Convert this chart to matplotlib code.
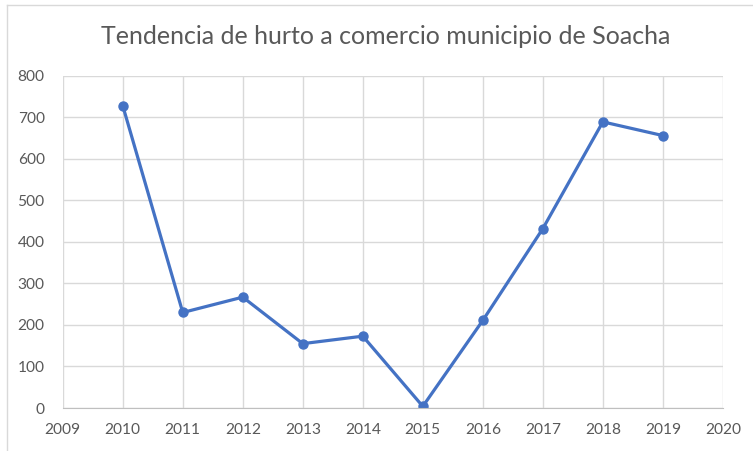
import matplotlib.pyplot as plt
from matplotlib.lines import Line2D

years = [2010, 2011, 2012, 2013, 2014, 2015, 2016, 2017, 2018, 2019]
hurtos = [728, 230, 267, 155, 173, 4, 211, 432, 689, 656]
x_ticks = list(range(2009, 2021))
y_ticks = list(range(0, 801, 100))

plt.rcParams['font.family'] = ['Lato', 'DejaVu Sans']

fig = plt.figure(figsize=(7.53, 4.51), dpi=100)
ax = fig.add_axes([0.0833, 0.0953, 0.8767, 0.7367])

ax.plot(years, hurtos, color='#4472C4', linewidth=2.3, marker='o', markersize=6.5)

ax.set_xlim(2009, 2020)
ax.set_ylim(0, 800)
ax.set_xticks(x_ticks)
ax.set_yticks(y_ticks)
ax.grid(True, color='#D9D9D9', linewidth=1)
ax.set_axisbelow(True)
for s in ['top', 'right', 'left']:
    ax.spines[s].set_visible(False)
ax.spines['bottom'].set_color('#BFBFBF')
ax.tick_params(length=0, labelsize=11.2, colors='#595959')
ax.tick_params(axis='y', pad=13)
ax.tick_params(axis='x', pad=11)

fig.text(0.512, 0.92, 'Tendencia de hurto a comercio municipio de Soacha',
         ha='center', va='center', fontsize=18, color='#595959')

# marco del gráfico (borde superior e izquierdo visibles)
fig.add_artist(Line2D([7 / 753, 1], [1 - 5 / 451, 1 - 5 / 451], color='#D9D9D9', linewidth=1,
                      transform=fig.transFigure))
fig.add_artist(Line2D([7 / 753, 7 / 753], [0, 1 - 5 / 451], color='#D9D9D9', linewidth=1,
                      transform=fig.transFigure))

fig.savefig('out.png', dpi=100)
